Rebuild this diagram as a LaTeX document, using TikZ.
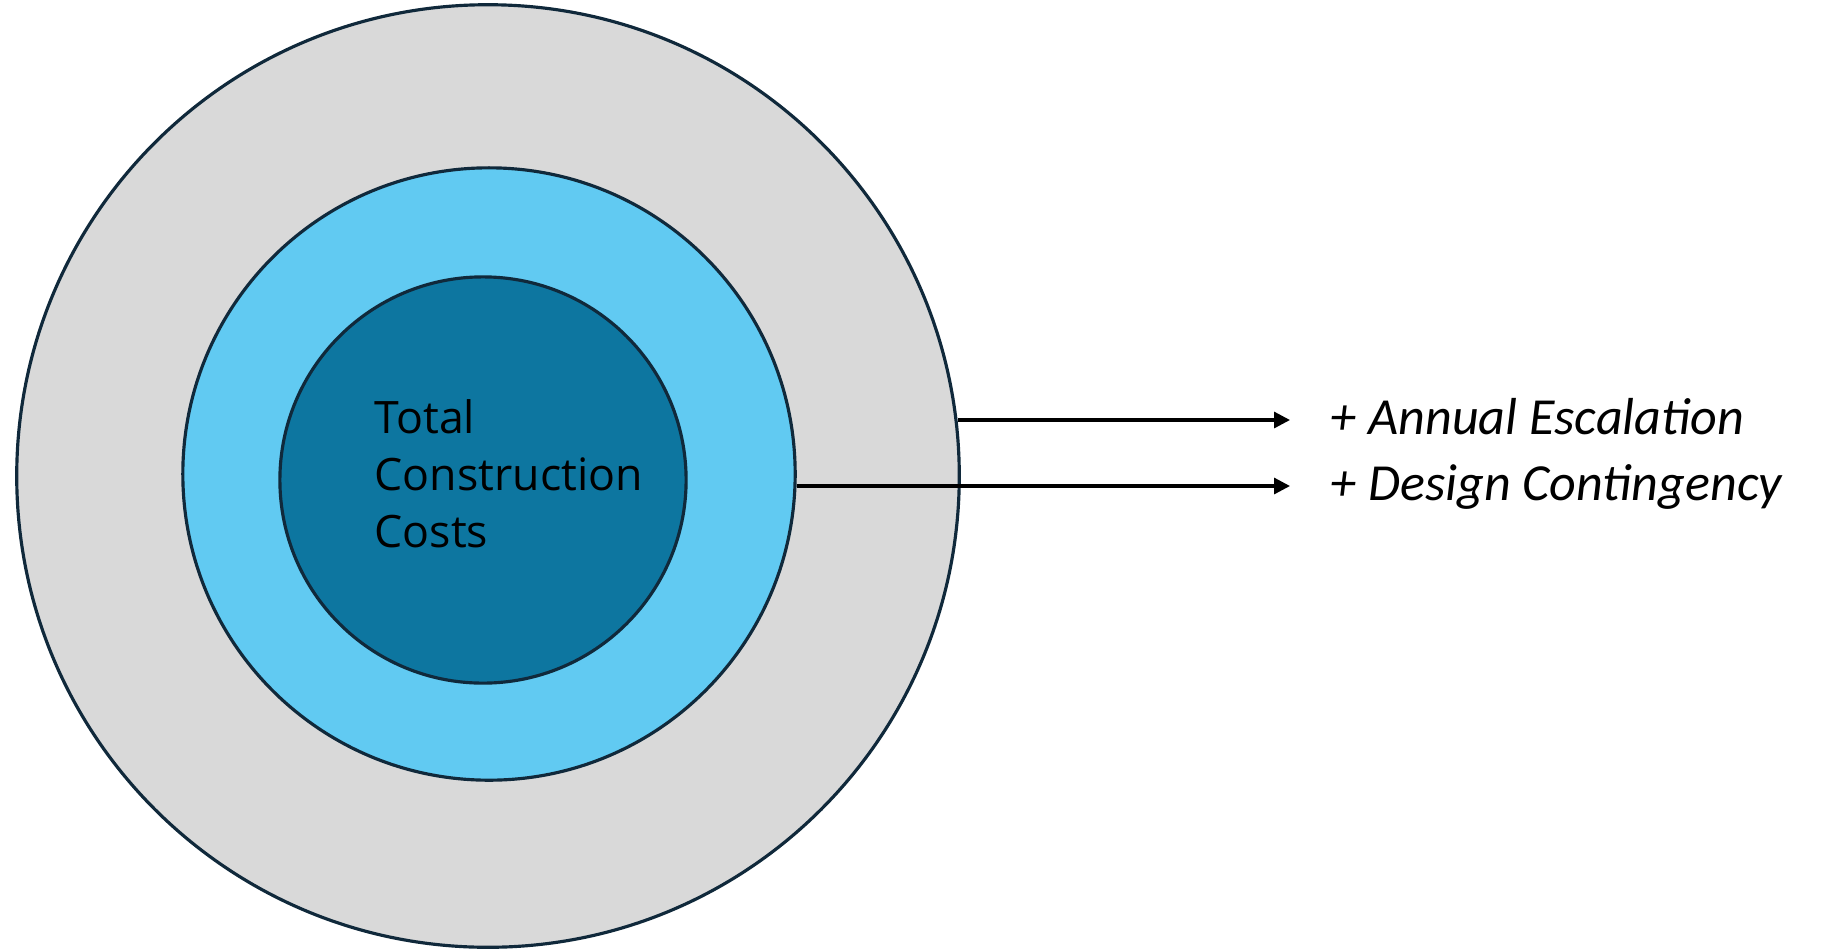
\documentclass[tikz,border=0pt]{standalone}
\usepackage{fontspec}
\setmainfont{Open Sans}
\newfontfamily\labelfont{Carlito}
\usetikzlibrary{arrows.meta}
\definecolor{ringline}{HTML}{10293B}
\definecolor{ringgray}{HTML}{D9D9D9}
\definecolor{ringlight}{HTML}{61CAF2}
\definecolor{ringdark}{HTML}{0D76A0}

\begin{document}
\begin{tikzpicture}[x=0.01cm, y=-0.01cm,
  ring/.style={circle, draw=ringline, line width=0.9pt, inner sep=0pt},
  addon/.style={anchor=west, inner sep=0pt, text height=9.4pt, text depth=0pt,
    font=\labelfont\itshape\fontsize{14.8}{17}\selectfont},
  arrowline/.style={line width=0.9pt, -{Triangle[length=4.5pt,width=4.5pt]}}]
\useasboundingbox (0,0) rectangle (1822,948);

\node[ring, fill=ringgray, minimum size=9.42cm] (outer) at (488,476) {};
\node[ring, fill=ringlight, minimum size=6.12cm] (middle) at (489,474) {};
\node[ring, fill=ringdark, minimum size=4.06cm] (inner) at (483,480) {};

\node[anchor=west, align=left, inner sep=0pt,
  font=\fontsize{12.7}{16.2}\selectfont] (total) at (374,474)
  {Total\\Construction\\Costs};

\node[addon] (escal) at (1330,418) {+ Annual Escalation};
\node[addon] (contin) at (1330,484) {+ Design Contingency};
\coordinate (escalend) at (1290,420);
\coordinate (continend) at (1290,486);

\draw[arrowline] (outer.6.7 |- escalend) -- (escalend);
\draw[arrowline] (middle.-2.2 |- continend) -- (continend);
\end{tikzpicture}
\end{document}
